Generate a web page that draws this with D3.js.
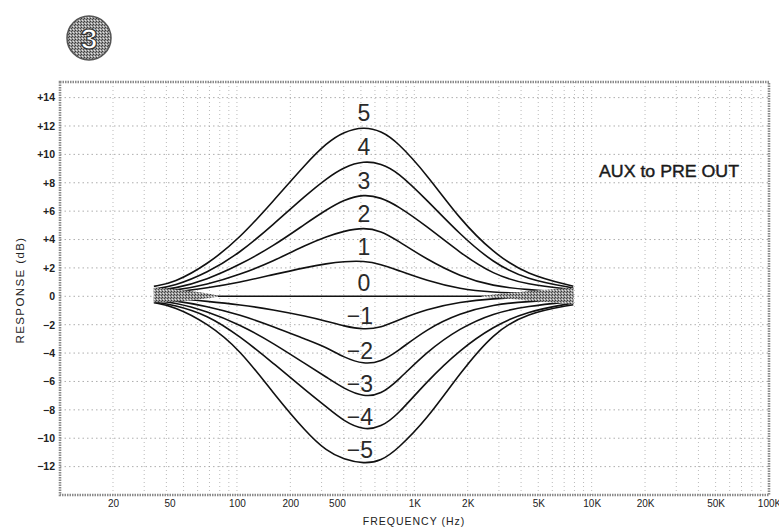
<!DOCTYPE html>
<html>
<head>
<meta charset="utf-8">
<script src="https://cdn.jsdelivr.net/npm/d3@7"></script>
<style>
  html, body { margin: 0; padding: 0; background: #fff; }
  svg { display: block; }
</style>
</head>
<body>
<svg id="chart" width="779" height="528"></svg>
<script>
// ---------- data ----------
const freqs = [34, 44, 68, 104, 160, 247, 320, 400, 520, 650, 800, 1175, 1811, 2788, 4303, 7880];
const curveNames = ["5", "4", "3", "2", "1", "0", "-1", "-2", "-3", "-4", "-5"];
const gainP5 = [0.7, 0.94, 2.23, 4.11, 6.7, 9.4, 10.8, 11.6, 11.95, 11.65, 10.9, 8.6, 5.4, 3.06, 1.53, 0.71];
const gainP4 = [0.52, 0.71, 1.65, 3.06, 5.05, 7.17, 8.3, 9.1, 9.55, 9.35, 8.8, 6.8, 4.35, 2.35, 1.18, 0.59];
const gainP3 = [0.4, 0.52, 1.18, 2.23, 3.53, 5.17, 6.1, 6.8, 7.2, 6.95, 6.4, 4.94, 3.06, 1.53, 0.82, 0.47];
const gainP2 = [0.3, 0.4, 0.82, 1.53, 2.47, 3.64, 4.2, 4.6, 4.85, 4.6, 3.95, 2.6, 1.41, 0.71, 0.47, 0.24];
const gainP1 = [0.2, 0.28, 0.59, 0.99, 1.53, 2.05, 2.3, 2.45, 2.5, 2.25, 1.85, 1.1, 0.5, 0.28, 0.2, 0.12];
const gain0  = [0, 0, 0, 0, 0, 0, 0, 0, 0, 0, 0, 0, 0, 0, 0, 0];
const gainM1 = [-0.1, -0.15, -0.35, -0.59, -0.94, -1.41, -1.75, -2.1, -2.35, -2.2, -1.7, -0.9, -0.4, -0.15, -0.08, -0.05];
const gainM2 = [-0.2, -0.28, -0.7, -1.3, -2.12, -3.06, -3.6, -4.3, -4.8, -4.6, -3.9, -2.3, -1.18, -0.59, -0.35, -0.24];
const gainM3 = [-0.3, -0.42, -1.06, -2.0, -3.29, -4.82, -5.7, -6.5, -7.1, -6.9, -6.0, -3.9, -2.23, -1.18, -0.7, -0.35];
const gainM4 = [-0.4, -0.59, -1.3, -2.82, -4.7, -6.69, -7.8, -8.8, -9.45, -9.2, -8.4, -6.0, -3.76, -2.12, -1.06, -0.47];
const gainM5 = [-0.45, -0.7, -1.88, -3.76, -6.81, -9.62, -10.9, -11.5, -11.8, -11.6, -10.8, -8.69, -5.4, -2.58, -1.18, -0.59];

// dense (merged) bundles of lines near the ends
const wedgeLeftFreq = [34, 48, 62, 78];
const wedgeLeftUp   = [0.62, 0.45, 0.28, 0.06];
const wedgeLeftLow  = [-0.42, -0.34, -0.2, -0.04];
const wedgeRightFreq = [2400, 3100, 4300, 6000, 7880];
const wedgeRightUp   = [0.04, 0.18, 0.36, 0.5, 0.6];
const wedgeRightLow  = [-0.04, -0.14, -0.3, -0.44, -0.55];

const yTicks = [14, 12, 10, 8, 6, 4, 2, 0, -2, -4, -6, -8, -10, -12];
const xTickValues = [20, 50, 100, 200, 500, 1000, 2000, 5000, 10000, 20000, 50000, 100000];
const xTickLabels = ["20", "50", "100", "200", "500", "1K", "2K", "5K", "10K", "20K", "50K", "100K"];
const gridDb = [14, 12, 10, 8, 6, 4, 2, 0, -2, -4, -6, -8, -10, -12];
const badgeText = "3";
const noteText = "AUX to PRE OUT";
const xTitle = "FREQUENCY (Hz)";
const yTitle = "RESPONSE (dB)";

// ---------- drawing ----------
const svg = d3.select("#chart");
const L = 60, R = 769, T = 82, B = 495;
const x = d3.scaleLog().domain([10, 100000]).range([59.6, 769]);
const y = d3.scaleLinear().domain([-14, 15.1]).range([B, T]);

const font = "'Liberation Sans', Arial, sans-serif";

// stipple pattern
const defs = svg.append("defs");
const pat = defs.append("pattern").attr("id", "stip").attr("width", 3).attr("height", 3)
  .attr("patternUnits", "userSpaceOnUse");
pat.append("rect").attr("width", 3).attr("height", 3).attr("fill", "#9a9a9a");
pat.append("rect").attr("x", 0).attr("y", 0).attr("width", 1).attr("height", 1).attr("fill", "#3a3a3a");
pat.append("rect").attr("x", 2).attr("y", 1).attr("width", 1).attr("height", 1).attr("fill", "#4a4a4a");
pat.append("rect").attr("x", 1).attr("y", 2).attr("width", 1).attr("height", 1).attr("fill", "#e6e6e6");

// vertical grid values: 1..9 x decades from 20 Hz
const vGrid = [];
[10, 100, 1000, 10000].forEach(d => {
  for (let m = 1; m <= 9; m++) {
    const v = d * m;
    if (v >= 20 && v < 100000) vGrid.push(v);
  }
});

const grid = svg.append("g");
grid.selectAll("line.v").data(vGrid).join("line")
  .attr("x1", d => x(d)).attr("x2", d => x(d))
  .attr("y1", T).attr("y2", B)
  .attr("stroke", "#a8a8a8").attr("stroke-width", 0.8)
  .attr("stroke-dasharray", "1,3");
grid.selectAll("line.h").data(gridDb).join("line")
  .attr("x1", L).attr("x2", R)
  .attr("y1", d => y(d)).attr("y2", d => y(d))
  .attr("stroke", "#999").attr("stroke-width", 0.8)
  .attr("stroke-dasharray", "1.5,3");

// frame (hatched look)
svg.append("rect").attr("x", L).attr("y", T).attr("width", R - L).attr("height", B - T)
  .attr("fill", "none").attr("stroke", "#8a8a8a").attr("stroke-width", 2.6)
  .attr("stroke-dasharray", "1.5,1");

// axes labels via d3 axes
const yAxis = d3.axisLeft(y).tickValues(yTicks).tickSize(0).tickPadding(0)
  .tickFormat(d => d > 0 ? "+" + d : (d < 0 ? "\u2212" + Math.abs(d) : "0"));
const gy = svg.append("g").attr("transform", `translate(55,0)`).call(yAxis);
gy.select(".domain").remove();
gy.selectAll("text").attr("font-family", font).attr("font-size", 10.5)
  .attr("font-weight", "bold").attr("fill", "#222");

const xAxis = d3.axisBottom(x).tickValues(xTickValues).tickSize(0).tickPadding(0)
  .tickFormat((d, i) => xTickLabels[i]);
const gx = svg.append("g").attr("transform", `translate(0,${B + 4})`).call(xAxis);
gx.select(".domain").remove();
const labelNudge = { "50": -14, "500": -24 };
gx.selectAll("text").attr("font-family", font).attr("font-size", 10)
  .attr("fill", "#222").attr("dy", "0.75em")
  .attr("dx", (d, i) => labelNudge[xTickLabels[i]] || 0);

// titles
svg.append("text").attr("x", 414).attr("y", 525).attr("text-anchor", "middle")
  .attr("font-family", font).attr("font-size", 10.5).attr("letter-spacing", 1)
  .attr("fill", "#222").text(xTitle);
svg.append("text").attr("transform", "translate(24,290) rotate(-90)")
  .attr("text-anchor", "middle").attr("font-family", font).attr("font-size", 11.5)
  .attr("letter-spacing", 1.4).attr("fill", "#222").text(yTitle);

// curves
const series = [gainP5, gainP4, gainP3, gainP2, gainP1, gain0, gainM1, gainM2, gainM3, gainM4, gainM5];
const line = d3.line().x(d => x(d.f)).y(d => y(d.g)).curve(d3.curveBasis);
svg.append("g").selectAll("path").data(series).join("path")
  .attr("d", s => line(s.map((g, i) => ({ f: freqs[i], g }))))
  .attr("fill", "none").attr("stroke", "#111").attr("stroke-width", 1.6);

// wedges (merged line bundles), drawn over the lines like the stippled original
const area = d3.area().x(d => x(d.f)).y0(d => y(d.lo)).y1(d => y(d.hi)).curve(d3.curveMonotoneX);
const wl = wedgeLeftFreq.map((f, i) => ({ f, hi: wedgeLeftUp[i], lo: wedgeLeftLow[i] }));
const wr = wedgeRightFreq.map((f, i) => ({ f, hi: wedgeRightUp[i], lo: wedgeRightLow[i] }));
svg.append("path").attr("d", area(wl)).attr("fill", "url(#stip)");
svg.append("path").attr("d", area(wr)).attr("fill", "url(#stip)");

// curve labels (placed just above each curve's extreme)
const labelFreq = 520;
svg.append("g").selectAll("text").data(series).join("text")
  .attr("x", (s, i) => x(labelFreq) - (i > 5 ? 4 : 0))
  .attr("y", s => {
    const ext = s.reduce((a, b) => Math.abs(b) > Math.abs(a) ? b : a, 0);
    return y(ext) - 14 + 8.5;
  })
  .attr("text-anchor", "middle").attr("font-family", font).attr("font-size", 23)
  .attr("fill", "#2a2a2a")
  .text((s, i) => curveNames[i].replace("-", "\u2212"));

// annotation
svg.append("text").attr("x", 669).attr("y", 177).attr("text-anchor", "middle")
  .attr("font-family", font).attr("font-size", 16)
  .attr("textLength", 140).attr("lengthAdjust", "spacingAndGlyphs")
  .attr("fill", "#1a1a1a").attr("stroke", "#1a1a1a").attr("stroke-width", 0.4)
  .text(noteText);

// badge
svg.append("circle").attr("cx", 89).attr("cy", 38).attr("r", 22)
  .attr("fill", "url(#stip)").attr("stroke", "#555").attr("stroke-width", 1.5);
svg.append("text").attr("x", 89).attr("y", 49).attr("text-anchor", "middle")
  .attr("font-family", font).attr("font-size", 30).attr("font-weight", "bold")
  .attr("fill", "#fff").attr("stroke", "#333").attr("stroke-width", 1.2)
  .text(badgeText);
</script>
</body>
</html>
